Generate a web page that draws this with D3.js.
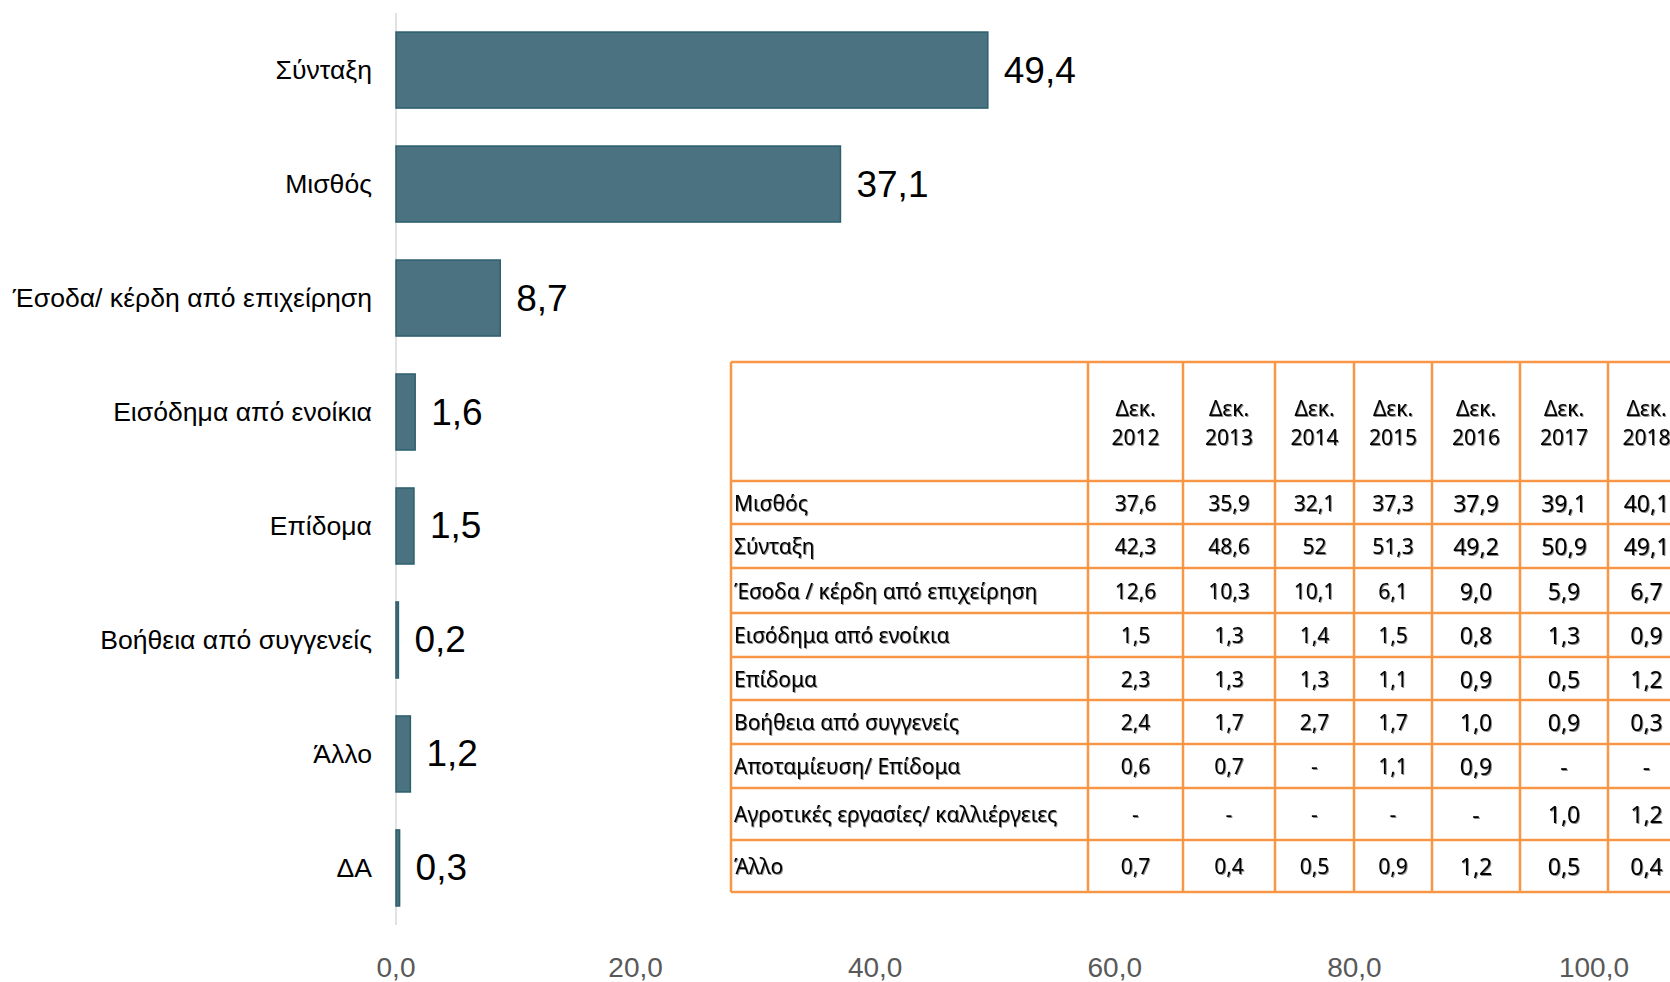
<html>
<head>
<meta charset="utf-8">
<script src="https://d3js.org/d3.v7.min.js"></script>
<style>
body { margin: 0; background: #fff; }
svg { display: block; }
.cat { font-family: "Liberation Sans", Arial, sans-serif; font-size: 26.6px; fill: #000; }
.val { font-family: "Liberation Sans", Arial, sans-serif; font-size: 37px; fill: #000; }
.tick { font-family: "Liberation Sans", Arial, sans-serif; font-size: 28px; fill: #595959; }
.tbl { font-family: "Noto Sans", "Open Sans", sans-serif; font-size: 21px; fill: #000; }
</style>
</head>
<body>
<div id="plot"></div>

<script>
// bar chart values
var categories = ["Σύνταξη", "Μισθός", "Έσοδα/ κέρδη από επιχείρηση", "Εισόδημα από ενοίκια",
	"Επίδομα", "Βοήθεια από συγγενείς", "Άλλο", "ΔΑ"];
var values = [49.4, 37.1, 8.7, 1.6, 1.5, 0.2, 1.2, 0.3];
var tickValues = [0, 20, 40, 60, 80, 100];

// inset table
var years = ["2012", "2013", "2014", "2015", "2016", "2017", "2018"];
var rowLabels = ["Μισθός", "Σύνταξη", "Έσοδα / κέρδη από επιχείρηση", "Εισόδημα από ενοίκια",
	"Επίδομα", "Βοήθεια από συγγενείς", "Αποταμίευση/ Επίδομα",
	"Αγροτικές εργασίες/ καλλιέργειες", "Άλλο"];
var misthos = ["37,6", "35,9", "32,1", "37,3", "37,9", "39,1", "40,1"];
var syntaxi = ["42,3", "48,6", "52", "51,3", "49,2", "50,9", "49,1"];
var esoda = ["12,6", "10,3", "10,1", "6,1", "9,0", "5,9", "6,7"];
var enoikia = ["1,5", "1,3", "1,4", "1,5", "0,8", "1,3", "0,9"];
var epidoma = ["2,3", "1,3", "1,3", "1,1", "0,9", "0,5", "1,2"];
var voitheia = ["2,4", "1,7", "2,7", "1,7", "1,0", "0,9", "0,3"];
var apotamieusi = ["0,6", "0,7", "-", "1,1", "0,9", "-", "-"];
var agrotikes = ["-", "-", "-", "-", "-", "1,0", "1,2"];
var allo = ["0,7", "0,4", "0,5", "0,9", "1,2", "0,5", "0,4"];
var tableRows = [misthos, syntaxi, esoda, enoikia, epidoma, voitheia, apotamieusi, agrotikes, allo];

var width = 1670;
var height = 982;

var svg = d3.select("#plot").append("svg").attr("width", width).attr("height", height);

svg.append("defs").append("filter").attr("id", "shadow")
.attr("x", "-10%").attr("y", "-20%").attr("width", "130%").attr("height", "150%")
.append("feDropShadow").attr("dx", 1).attr("dy", 1).attr("stdDeviation", 0.7)
.attr("flood-color", "#000").attr("flood-opacity", 0.45);

var comma = function(v) { return d3.format(".1f")(v).replace(".", ","); };

var xScale = d3.scaleLinear().domain([0, 100]).range([396, 1594]);
var yScale = d3.scaleBand().domain(categories).range([13, 925]).paddingInner(0.333).paddingOuter(0.167);

var data = categories.map(function(c, i) { return { cat: c, value: values[i] }; });

// category axis line
svg.append("line")
.attr("x1", xScale(0)).attr("x2", xScale(0))
.attr("y1", yScale.range()[0]).attr("y2", yScale.range()[1])
.style("stroke", "#d9d9d9").style("stroke-width", 1.5);

svg.selectAll(".bar").data(data)
.enter().append("rect")
.attr("class", "bar")
.attr("x", xScale(0))
.attr("y", function(d) { return yScale(d.cat); })
.attr("width", function(d) { return xScale(d.value) - xScale(0); })
.attr("height", yScale.bandwidth())
.style("fill", "#4a7280")
.style("stroke", "#2d5f6d")
.style("stroke-width", 1.5);

svg.selectAll(".cat").data(data)
.enter().append("text")
.attr("class", "cat")
.attr("x", xScale(0) - 24)
.attr("y", function(d) { return yScale(d.cat) + yScale.bandwidth() / 2; })
.attr("text-anchor", "end")
.attr("dominant-baseline", "central")
.text(function(d) { return d.cat; });

svg.selectAll(".val").data(data)
.enter().append("text")
.attr("class", "val")
.attr("x", function(d) { return xScale(d.value) + 16; })
.attr("y", function(d) { return yScale(d.cat) + yScale.bandwidth() / 2; })
.attr("dominant-baseline", "central")
.text(function(d) { return comma(d.value); });

svg.selectAll(".tick").data(tickValues)
.enter().append("text")
.attr("class", "tick")
.attr("x", function(d) { return xScale(d); })
.attr("y", 967)
.attr("text-anchor", "middle")
.attr("dominant-baseline", "central")
.text(function(d) { return comma(d); });

// ---- table ----
var tableLeft = 731, tableTop = 362;
var labelColWidth = 357;
var colWidths = [95, 92, 79, 78, 88, 88, 77];
var rowHeights = [119, 43, 44, 45, 44, 43, 44, 44, 52, 52];

var colEdges = [tableLeft, tableLeft + labelColWidth];
colWidths.forEach(function(w) { colEdges.push(colEdges[colEdges.length - 1] + w); });
var rowEdges = [tableTop];
rowHeights.forEach(function(h) { rowEdges.push(rowEdges[rowEdges.length - 1] + h); });

var table = svg.append("g");
var tableRight = colEdges[colEdges.length - 1], tableBottom = rowEdges[rowEdges.length - 1];

table.append("rect")
.attr("x", tableLeft).attr("y", tableTop)
.attr("width", tableRight - tableLeft).attr("height", tableBottom - tableTop)
.style("fill", "#fff");

var txt = table.append("g").attr("filter", "url(#shadow)");

// header
years.forEach(function(y, j) {
	var cx = (colEdges[j + 1] + colEdges[j + 2]) / 2;
	var t = txt.append("text").attr("class", "tbl").attr("text-anchor", "middle");
	t.append("tspan").attr("x", cx).attr("y", 416).text("Δεκ.");
	t.append("tspan").attr("x", cx).attr("y", 445).text(y);
});

tableRows.forEach(function(row, i) {
	var cy = (rowEdges[i + 1] + rowEdges[i + 2]) / 2;
	txt.append("text").attr("class", "tbl")
	.attr("x", tableLeft + 3).attr("y", cy)
	.attr("dominant-baseline", "central")
	.text(rowLabels[i]);
	row.forEach(function(v, j) {
		txt.append("text").attr("class", "tbl")
		.attr("x", (colEdges[j + 1] + colEdges[j + 2]) / 2).attr("y", cy)
		.attr("text-anchor", "middle")
		.attr("dominant-baseline", "central")
		.style("font-size", j >= 4 ? "23px" : "21px")
		.text(v);
	});
});

// grid lines
var gridColor = "#f79646";
colEdges.forEach(function(x) {
	table.append("line").attr("x1", x).attr("x2", x).attr("y1", tableTop).attr("y2", tableBottom)
	.style("stroke", gridColor).style("stroke-width", 2.5);
});
rowEdges.forEach(function(y) {
	table.append("line").attr("x1", tableLeft).attr("x2", tableRight).attr("y1", y).attr("y2", y)
	.style("stroke", gridColor).style("stroke-width", 2.5);
});
</script>
</body>
</html>
